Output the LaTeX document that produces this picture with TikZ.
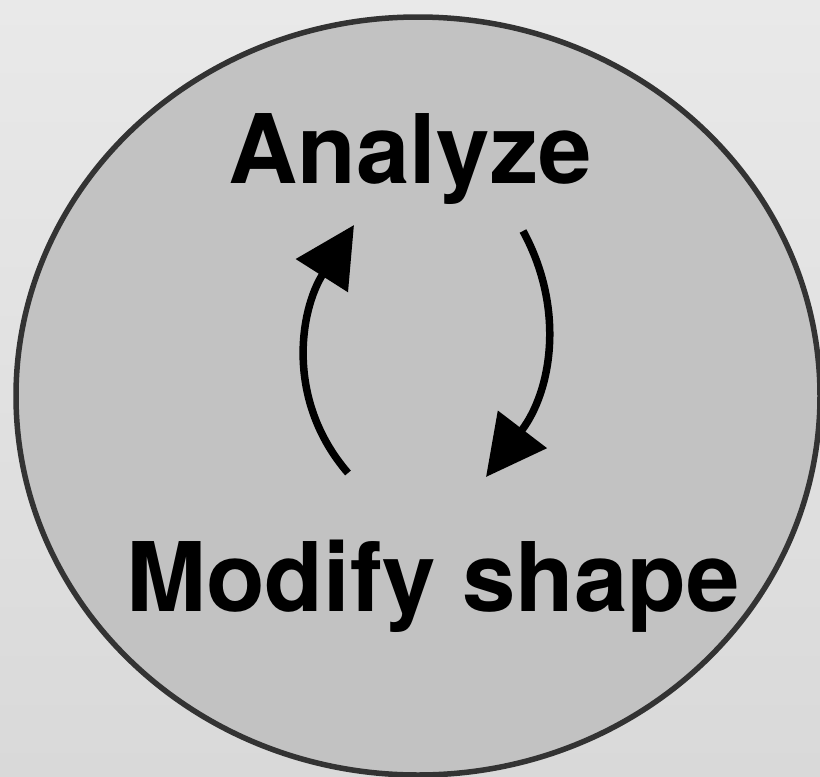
\documentclass[tikz,border=0pt]{standalone}
\usepackage{fontspec}
\setmainfont{TeX Gyre Heros}
\usetikzlibrary{arrows.meta,shapes.geometric}
\definecolor{bgtop}{HTML}{E9E9E9}
\definecolor{bgbot}{HTML}{D9D9D9}
\definecolor{discfill}{HTML}{C2C2C2}
\definecolor{discline}{HTML}{333333}
\tikzset{
  disc/.style={ellipse, draw=discline, fill=discfill, line width=5.5pt, inner sep=0pt, minimum width=804pt, minimum height=758pt},
  label/.style={font=\fontsize{96}{100}\selectfont\bfseries, text=black, anchor=base, inner sep=0pt},
  cyclearrow/.style={line width=7.5pt, black, -{Triangle[length=60pt,width=60pt]}}
}
\begin{document}
\begin{tikzpicture}[x=1pt,y=-1pt]
\useasboundingbox (0,0) rectangle (820,777);
\shade[top color=bgtop, bottom color=bgbot] (0,0) rectangle (820,777);
\node[disc] (disc) at (418,396) {};
\node[label] (analyze) at (410,183) {Analyze};
\node[label] (modify) at (433,611) {Modify shape};
\coordinate (l0) at (348,473);
\coordinate (l1) at (354,225);
\coordinate (r0) at (523,231);
\coordinate (r1) at (486,477);
\draw[cyclearrow] (l0) .. controls (285,400) and (300,310) .. (l1);
\draw[cyclearrow] (r0) .. controls (566,310) and (551,392) .. (r1);
\end{tikzpicture}
\end{document}
